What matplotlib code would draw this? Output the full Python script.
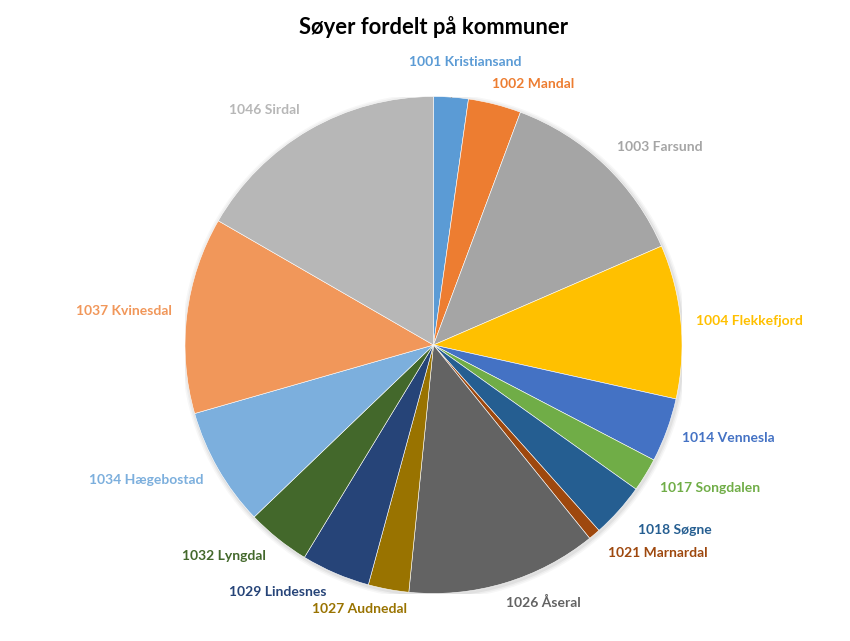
import matplotlib
matplotlib.use("Agg")
import matplotlib.pyplot as plt
from matplotlib.patches import Circle

W, H, DPI = 850, 641, 100

KOMMUNER = [
    "1001 Kristiansand", "1002 Mandal", "1003 Farsund", "1004 Flekkefjord",
    "1014 Vennesla", "1017 Songdalen", "1018 Søgne", "1021 Marnardal",
    "1026 Åseral", "1027 Audnedal", "1029 Lindesnes", "1032 Lyngdal",
    "1034 Hægebostad", "1037 Kvinesdal", "1046 Sirdal",
]
# share of sheep (percent)
ANDEL = [2.25, 3.44, 12.8, 10.0, 4.17, 2.19, 3.56, 0.78,
         12.4, 2.64, 4.47, 4.14, 7.72, 12.78, 16.67]

COLORS = [
    "#5B9BD5", "#ED7D31", "#A5A5A5", "#FFC000", "#4472C4", "#70AD47",
    "#255E91", "#9E480E", "#636363", "#997300", "#264478", "#43682B",
    "#7CAFDD", "#F1975A", "#B7B7B7",
]

# label centres in pie units (radius = 1)
LABEL_XY = [
    (0.127, 1.139), (0.400, 1.050), (0.911, 0.797), (1.270, 0.097),
    (1.185, -0.374), (1.113, -0.575), (0.972, -0.744), (0.903, -0.837),
    (0.441, -1.038), (-0.296, -1.062), (-0.626, -0.994), (-0.843, -0.849),
    (-1.157, -0.543), (-1.245, 0.137), (-0.682, 0.946),
]

plt.rcParams["font.family"] = ["Lato", "DejaVu Sans"]

fig = plt.figure(figsize=(W / DPI, H / DPI), dpi=DPI)
cx, cy, r = 433.5, 345, 248.5
ax = fig.add_axes([(cx - r) / W, (H - cy - r) / H, 2 * r / W, 2 * r / H])

# soft shadow
for i, a in enumerate([0.05, 0.04, 0.03]):
    ax.add_patch(Circle((0.004, -0.006), 1.0 + 0.006 * (i + 1), color="black",
                        alpha=a, lw=0, zorder=0))

ax.pie(ANDEL, colors=COLORS, startangle=90, counterclock=False, radius=1,
       wedgeprops={"edgecolor": "white", "linewidth": 0.4}, frame=True)
ax.set_xlim(-1, 1)
ax.set_ylim(-1, 1)
ax.axis("off")

for name, (x, y), c in zip(KOMMUNER, LABEL_XY, COLORS):
    ax.text(x, y, name, color=c, fontsize=10, fontweight="bold",
            ha="center", va="center")

# leader line for the smallest top label
ax.plot([0.07, 0.07], [1.108, 1.0], color="#A6A6A6", lw=0.9)

fig.text(cx / W, 1 - 27 / H, "Søyer fordelt på kommuner", ha="center",
         va="center", fontsize=15.8, fontweight="bold", color="black")

fig.savefig("out.png", dpi=DPI)
